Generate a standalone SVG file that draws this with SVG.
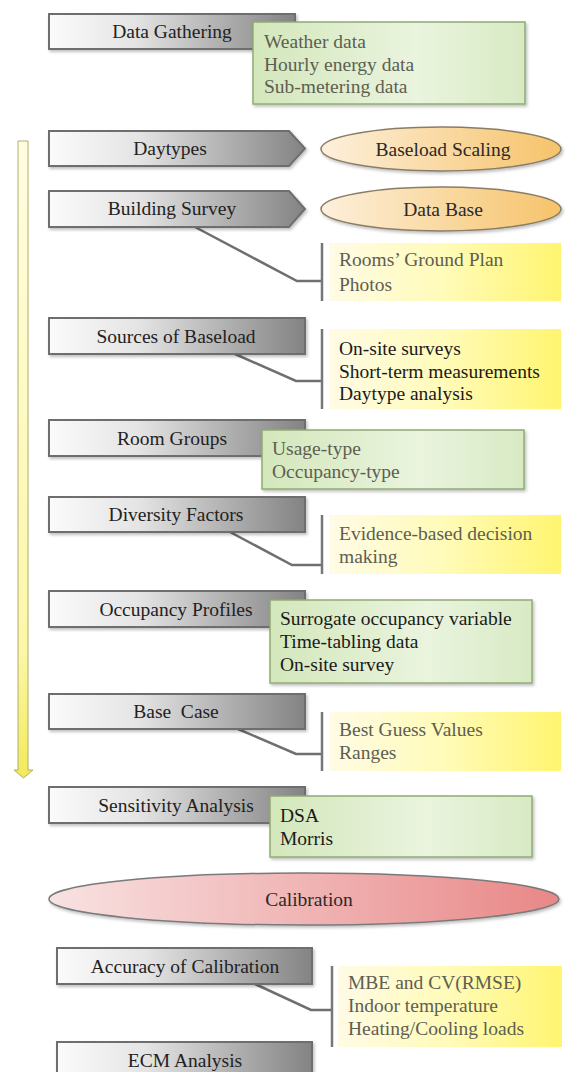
<svg xmlns="http://www.w3.org/2000/svg" width="565" height="1072" viewBox="0 0 565 1072">
<defs>
<linearGradient id="gGray" x1="0" y1="0" x2="1" y2="0">
<stop offset="0" stop-color="#fbfbfb"/><stop offset="0.35" stop-color="#e4e4e4"/><stop offset="1" stop-color="#838383"/>
</linearGradient>
<linearGradient id="gGreen" x1="0" y1="0" x2="1" y2="0">
<stop offset="0" stop-color="#d3e7bb"/><stop offset="0.6" stop-color="#eaf4de"/><stop offset="1" stop-color="#d8eac4"/>
</linearGradient>
<linearGradient id="gYellow" x1="0" y1="0" x2="1" y2="0">
<stop offset="0" stop-color="#fffbe6"/><stop offset="0.5" stop-color="#fffbb8"/><stop offset="1" stop-color="#fff570"/>
</linearGradient>
<linearGradient id="gOrange" x1="0" y1="0" x2="1" y2="0">
<stop offset="0" stop-color="#fdf0dc"/><stop offset="1" stop-color="#f6c36a"/>
</linearGradient>
<linearGradient id="gRed" x1="0" y1="0" x2="1" y2="0">
<stop offset="0" stop-color="#f8e2e2"/><stop offset="1" stop-color="#e98787"/>
</linearGradient>
<linearGradient id="gArrow" x1="0" y1="0" x2="0" y2="1">
<stop offset="0" stop-color="#fffde0"/><stop offset="0.8" stop-color="#fbf7a8"/><stop offset="1" stop-color="#f2ea5a"/>
</linearGradient>
<filter id="sh" x="-5%" y="-20%" width="115%" height="150%">
<feDropShadow dx="1.5" dy="2" stdDeviation="1.5" flood-color="#000" flood-opacity="0.25"/>
</filter>
</defs>
<style>
text{font-family:"Liberation Serif","Times New Roman",serif;font-size:19.5px}
.gb{fill:url(#gGray);stroke:#6e6e6e;stroke-width:2;filter:url(#sh)}
.gt{fill:#222;text-anchor:middle}
.grn{fill:url(#gGreen);stroke:#8fac72;stroke-width:1.5;filter:url(#sh)}
.yel{fill:url(#gYellow)}
.bar{stroke:#777;stroke-width:2.5;fill:none}
.con{stroke:#6f6f6f;stroke-width:2.5;fill:none}
.sub{fill:#5e5e52}
.blk{fill:#1a1a1a}
.ell{filter:url(#sh)}
</style>

<g id="flow-arrow">
<path d="M18,141 H28 V770 H33 L23.5,778 L14,770 H18 Z" fill="url(#gArrow)" stroke="#b3ad6a" stroke-width="1"/>
</g>

<g id="connectors">
<path class="con" d="M195,227 L297,281 H321"/>
<line class="bar" x1="322" y1="243" x2="322" y2="301"/>
<path class="con" d="M235,354 L296,381 H321"/>
<line class="bar" x1="322" y1="329" x2="322" y2="409"/>
<path class="con" d="M230,532 L292,565 H321"/>
<line class="bar" x1="322" y1="515" x2="322" y2="574"/>
<path class="con" d="M238,729 L296,754 H321"/>
<line class="bar" x1="322" y1="712" x2="322" y2="771"/>
<path class="con" d="M255,984 L311,1010 H331"/>
<line class="bar" x1="332" y1="966" x2="332" y2="1047"/>
</g>

<g id="data-gathering">
<rect class="gb" x="49" y="14" width="246" height="35"/>
<text class="gt" x="172" y="38">Data Gathering</text>
</g>
<g id="data-gathering-notes">
<rect class="grn" x="253" y="22" width="272" height="82"/>
<text class="sub" x="264" y="48">Weather data</text>
<text class="sub" x="264" y="70.5">Hourly energy data</text>
<text class="sub" x="264" y="93">Sub-metering data</text>
</g>

<g id="daytypes">
<path class="gb" d="M49,131 H289 L305,148.5 L289,166 H49 Z"/>
<text class="gt" x="170" y="155">Daytypes</text>
</g>
<g id="baseload-scaling">
<ellipse class="ell" cx="441" cy="149" rx="120" ry="22" fill="url(#gOrange)" stroke="#8a7d66" stroke-width="1.5"/>
<text x="443" y="155.5" text-anchor="middle" fill="#2a2a2a">Baseload Scaling</text>
</g>

<g id="building-survey">
<path class="gb" d="M49,191 H289 L305,209 L289,227 H49 Z"/>
<text class="gt" x="172" y="215">Building Survey</text>
</g>
<g id="data-base">
<ellipse class="ell" cx="441" cy="209" rx="120" ry="22" fill="url(#gOrange)" stroke="#8a7d66" stroke-width="1.5"/>
<text x="443" y="215.5" text-anchor="middle" fill="#2a2a2a">Data Base</text>
</g>
<g id="building-survey-notes">
<rect class="yel" x="329" y="243" width="232" height="58"/>
<text class="sub" x="339" y="266">Rooms’ Ground Plan</text>
<text class="sub" x="339" y="291">Photos</text>
</g>

<g id="sources-of-baseload">
<rect class="gb" x="49" y="318" width="256" height="36"/>
<text class="gt" x="176" y="343">Sources of Baseload</text>
</g>
<g id="sources-notes">
<rect class="yel" x="329" y="329" width="232" height="80"/>
<text class="blk" x="339" y="355">On-site surveys</text>
<text class="blk" x="339" y="377.5">Short-term measurements</text>
<text class="blk" x="339" y="400">Daytype analysis</text>
</g>

<g id="room-groups">
<rect class="gb" x="49" y="420" width="256" height="36"/>
<text class="gt" x="172" y="444.5">Room Groups</text>
</g>
<g id="room-groups-notes">
<rect class="grn" x="262" y="430" width="262" height="59"/>
<text class="sub" x="272" y="455">Usage-type</text>
<text class="sub" x="272" y="477.5">Occupancy-type</text>
</g>

<g id="diversity-factors">
<rect class="gb" x="49" y="497" width="256" height="35"/>
<text class="gt" x="176" y="520.5">Diversity Factors</text>
</g>
<g id="diversity-notes">
<rect class="yel" x="329" y="515" width="232" height="59"/>
<text class="sub" x="339" y="540">Evidence-based decision</text>
<text class="sub" x="339" y="563">making</text>
</g>

<g id="occupancy-profiles">
<rect class="gb" x="49" y="591" width="256" height="36"/>
<text class="gt" x="176" y="615.5">Occupancy Profiles</text>
</g>
<g id="occupancy-notes">
<rect class="grn" x="270" y="600" width="262" height="83"/>
<text class="blk" x="280" y="625">Surrogate occupancy variable</text>
<text class="blk" x="280" y="648">Time-tabling data</text>
<text class="blk" x="280" y="671">On-site survey</text>
</g>

<g id="base-case">
<rect class="gb" x="49" y="694" width="256" height="35"/>
<text class="gt" x="176" y="718" xml:space="preserve">Base  Case</text>
</g>
<g id="base-case-notes">
<rect class="yel" x="329" y="712" width="232" height="59"/>
<text class="sub" x="339" y="736">Best Guess Values</text>
<text class="sub" x="339" y="759">Ranges</text>
</g>

<g id="sensitivity-analysis">
<rect class="gb" x="49" y="787" width="256" height="36"/>
<text class="gt" x="176" y="812">Sensitivity Analysis</text>
</g>
<g id="sensitivity-notes">
<rect class="grn" x="270" y="796" width="262" height="61"/>
<text class="blk" x="280" y="822">DSA</text>
<text class="blk" x="280" y="845">Morris</text>
</g>

<g id="calibration">
<ellipse class="ell" cx="304" cy="899" rx="255" ry="26" fill="url(#gRed)" stroke="#7a7a7a" stroke-width="1.5"/>
<text x="309" y="906" text-anchor="middle" fill="#2a2a2a">Calibration</text>
</g>

<g id="accuracy-of-calibration">
<rect class="gb" x="57" y="948" width="255" height="36"/>
<text class="gt" x="185" y="972.5">Accuracy of Calibration</text>
</g>
<g id="accuracy-notes">
<rect class="yel" x="338" y="966" width="224" height="81"/>
<text class="sub" x="348" y="989">MBE and CV(RMSE)</text>
<text class="sub" x="348" y="1012">Indoor temperature</text>
<text class="sub" x="348" y="1035">Heating/Cooling loads</text>
</g>

<g id="ecm-analysis">
<rect class="gb" x="57" y="1042" width="255" height="36"/>
<text class="gt" x="185" y="1066.5">ECM Analysis</text>
</g>
</svg>
